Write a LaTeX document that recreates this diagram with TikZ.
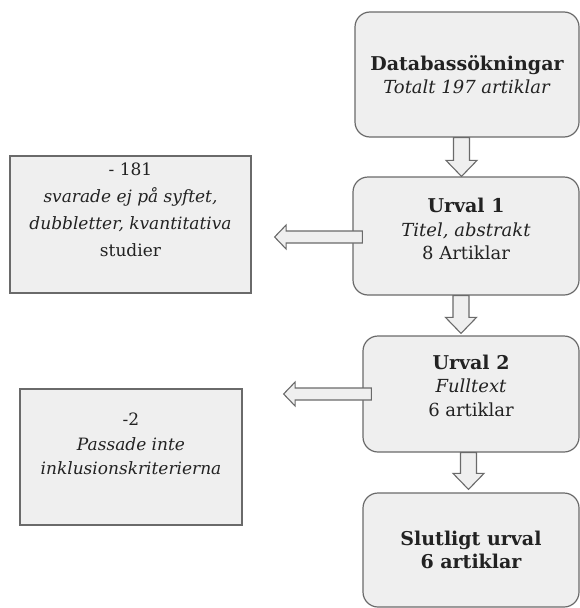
\documentclass[tikz,border=0pt]{standalone}
\usepackage{fontspec}
\setmainfont{DejaVu Serif}
\usepackage{tikz}
\usetikzlibrary{calc}
\definecolor{boxfill}{HTML}{EFEFEF}
\definecolor{boxline}{HTML}{6A6A6A}
\definecolor{txt}{HTML}{222222}

% hollow block arrows: tail centre, tip
\newcommand{\blockdown}[2]{%
  \draw[barrow] let \p1=(#1), \p2=(#2) in
    (\x1-8pt,\y1) -- (\x1-8pt,\y2+16pt) -- (\x1-15.5pt,\y2+16pt) -- (\x1,\y2)
    -- (\x1+15.5pt,\y2+16pt) -- (\x1+8pt,\y2+16pt) -- (\x1+8pt,\y1) -- cycle;}
\newcommand{\blockleft}[2]{%
  \draw[barrow] let \p1=(#1), \p2=(#2) in
    (\x1,\y1+6pt) -- (\x2+11.5pt,\y1+6pt) -- (\x2+11.5pt,\y1+12pt) -- (\x2,\y1)
    -- (\x2+11.5pt,\y1-12pt) -- (\x2+11.5pt,\y1-6pt) -- (\x1,\y1-6pt) -- cycle;}
\newcommand{\ttl}[1]{{\fontsize{19}{23}\selectfont\bfseries #1}}

\begin{document}
\begin{tikzpicture}[x=1pt,y=1pt,every node/.style={text=txt,font=\fontsize{18}{23.5}\selectfont}]
\tikzset{stage/.style = {shape=rectangle,draw=boxline,fill=boxfill,line width=1.2pt,rounded corners=15pt,inner sep=0pt,align=center}}
\tikzset{drop/.style = {shape=rectangle,draw=boxline,fill=boxfill,line width=1.2pt,inner sep=0pt,align=center}}
\tikzset{barrow/.style = {draw=boxline,fill=boxfill,line width=1.1pt,line join=miter}}
\useasboundingbox (0,0) rectangle (580,-608);
% main
\node[stage,minimum width=224,minimum height=125,text depth=0pt] (dbs) at (467,-74.5) {\ttl{Databassökningar}\\ \textit{Totalt 197 artiklar}};
\node[stage,minimum width=226,minimum height=118,text depth=14pt] (urv1) at (466,-236) {\ttl{Urval 1}\\ \textit{Titel, abstrakt}\\ 8 Artiklar};
\node[stage,minimum width=216,minimum height=116,text depth=17pt] (urv2) at (471,-394) {\ttl{Urval 2}\\ \textit{Fulltext}\\ 6 artiklar};
\node[stage,minimum width=216,minimum height=114] (slut) at (471,-550) {\ttl{Slutligt urval}\\ \ttl{6 artiklar}};

\node[drop,minimum width=241,minimum height=137,text depth=29pt,font=\fontsize{17}{27}\selectfont] (bort1) at (130.5,-224.5) {- 181\\ \textit{svarade ej på syftet,}\\ \textit{dubbletter, kvantitativa}\\ studier};
\node[drop,minimum width=222,minimum height=136,text depth=26pt,font=\fontsize{17}{24.5}\selectfont] (bort2) at (131,-457) {-2\\ \textit{Passade inte}\\ \textit{inklusionskriterierna}};

% arrow ends
\coordinate (d1) at ($(dbs.south)+(-5.5,0)$);
\coordinate (d2) at ($(urv1.south)+(-5,0)$);
\coordinate (d3) at ($(urv2.south)+(-2.5,0)$);
\coordinate (l1) at ($(urv1.west)+(10,-1)$);
\coordinate (l2) at ($(urv2.west)+(9,0)$);

%edges
\blockdown{d1}{d1 |- urv1.north}
\blockdown{d2}{$(d2 |- urv2.north)+(0,2)$}
\blockdown{d3}{$(d3 |- slut.north)+(0,3)$}
\blockleft{l1}{$(bort1.east |- l1)+(23,0)$}
\blockleft{l2}{$(bort2.east |- l2)+(41,0)$}

\end{tikzpicture}
\end{document}
